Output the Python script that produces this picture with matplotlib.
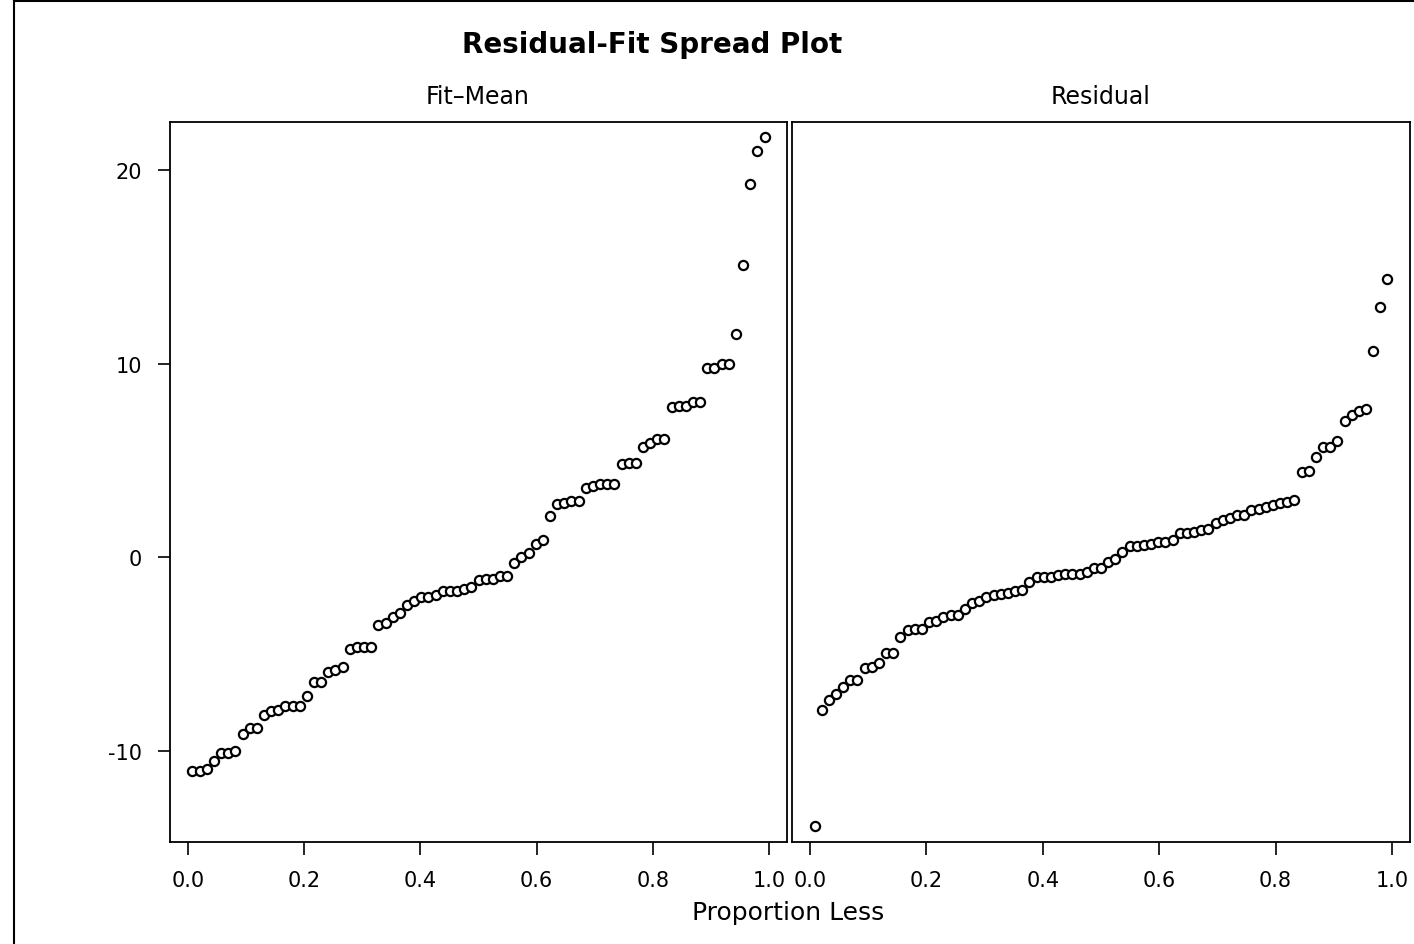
import numpy as np
import matplotlib
matplotlib.use('Agg')
import matplotlib.pyplot as plt
from matplotlib.lines import Line2D

plt.rcParams['font.family'] = ['DejaVu Sans']
plt.rcParams['axes.unicode_minus'] = False

# sorted values
fit_mean = [-11.03, -11.02, -10.95, -10.50, -10.09, -10.09, -10.02, -9.10, -8.79, -8.79,
            -8.16, -7.95, -7.90, -7.67, -7.67, -7.66, -7.14, -6.41, -6.41, -5.90,
            -5.83, -5.64, -4.71, -4.60, -4.60, -4.60, -3.50, -3.36, -3.07, -2.86,
            -2.47, -2.26, -2.03, -2.03, -1.95, -1.74, -1.74, -1.74, -1.64, -1.52,
            -1.14, -1.12, -1.12, -0.95, -0.95, -0.31, 0.00, 0.21, 0.72, 0.89,
            2.14, 2.76, 2.79, 2.93, 2.93, 3.57, 3.71, 3.78, 3.78, 3.78,
            4.81, 4.90, 4.90, 5.73, 5.90, 6.10, 6.10, 7.76, 7.85, 7.85,
            8.05, 8.05, 9.81, 9.81, 9.98, 9.98, 11.54, 15.12, 19.30, 21.02,
            21.73]
residual = [-13.85, -7.86, -7.35, -7.04, -6.69, -6.35, -6.35, -5.71, -5.65, -5.43,
            -4.93, -4.93, -4.10, -3.76, -3.72, -3.67, -3.33, -3.30, -3.07, -2.98,
            -2.98, -2.64, -2.33, -2.24, -2.03, -1.94, -1.91, -1.84, -1.71, -1.66,
            -1.26, -1.03, -1.03, -1.03, -0.92, -0.83, -0.83, -0.83, -0.74, -0.54,
            -0.52, -0.22, -0.10, 0.29, 0.61, 0.61, 0.67, 0.72, 0.78, 0.81,
            0.89, 1.24, 1.24, 1.33, 1.41, 1.45, 1.76, 1.93, 2.02, 2.22,
            2.22, 2.45, 2.50, 2.62, 2.71, 2.83, 2.88, 2.95, 4.40, 4.47,
            5.21, 5.73, 5.73, 6.02, 7.05, 7.36, 7.57, 7.66, 10.69, 12.93,
            14.38]
panel_titles = ['Fit\u2013Mean', 'Residual']
x_ticks = [0.0, 0.2, 0.4, 0.6, 0.8, 1.0]
y_ticks = [-10, 0, 10, 20]

W, H = 1414, 945
fig = plt.figure(figsize=(W / 100, H / 100), dpi=100)

def box(x0, y0, x1, y1):
    return [x0 / W, 1 - y1 / H, (x1 - x0) / W, (y1 - y0) / H]

ax1 = fig.add_axes(box(170, 123, 787, 843))
ax2 = fig.add_axes(box(792, 123, 1410, 843))

for ax, vals in [(ax1, fit_mean), (ax2, residual)]:
    n = len(vals)
    prop = (np.arange(1, n + 1) - 0.375) / (n + 0.25)
    ax.plot(prop, vals, 'o', markersize=6.6, markerfacecolor='white',
            markeredgecolor='black', markeredgewidth=1.6, linestyle='none')
    ax.set_xlim(-0.031, 1.031)
    ax.set_ylim(-14.7, 22.5)
    ax.set_xticks(x_ticks)
    ax.set_xticklabels(['%.1f' % t for t in x_ticks])
    ax.tick_params(axis='both', direction='out', length=9, width=1.2,
                   labelsize=15, colors='black', pad=11)
    for s in ax.spines.values():
        s.set_linewidth(1.3)

ax1.set_yticks(y_ticks)
ax1.set_yticklabels([str(t) for t in y_ticks])
ax2.set_yticks([])

fig.text(652 / W, 1 - 45 / H, 'Residual-Fit Spread Plot', ha='center', va='center',
         fontsize=20, fontweight='bold')
fig.text(478 / W, 1 - 97 / H, panel_titles[0], ha='center', va='center', fontsize=17)
fig.text(1101 / W, 1 - 97 / H, panel_titles[1], ha='center', va='center', fontsize=17)
fig.text(788 / W, 1 - 913 / H, 'Proportion Less', ha='center', va='center', fontsize=18)

# outer frame (top and left edges visible)
fig.add_artist(Line2D([14 / W, 14 / W], [0, 1 - 2 / H], color='black', linewidth=1.5))
fig.add_artist(Line2D([14 / W, 1], [1 - 2 / H, 1 - 2 / H], color='black', linewidth=1.5))

fig.savefig('out.png', dpi=100)
